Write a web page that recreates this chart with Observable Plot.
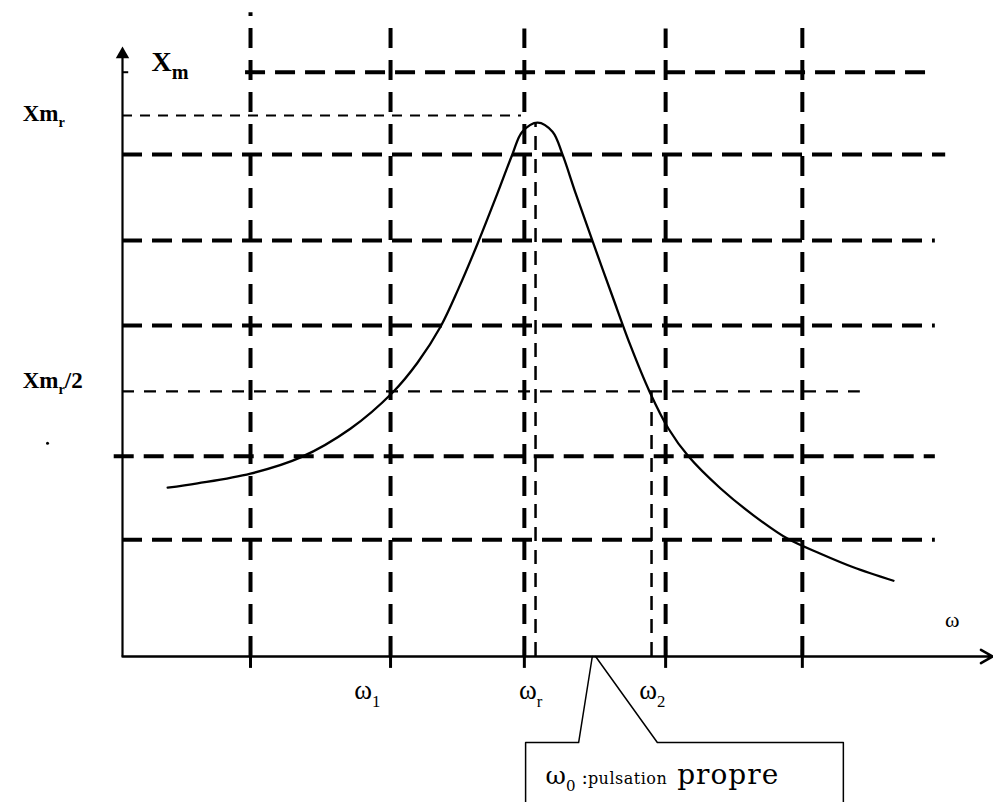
<!DOCTYPE html>
<html><head><meta charset="utf-8">
<script src="https://cdn.jsdelivr.net/npm/d3@7"></script>
<script src="https://cdn.jsdelivr.net/npm/@observablehq/plot@0.6"></script>
<style>html,body{margin:0;padding:0;background:#fff;} svg{display:block;}</style>
</head><body><div id="chart"></div>
<script>
// ---- data (ω normalised, Xm normalised to Xm_r = 1) ----
const curveOmega = [0.109,0.181,0.309,0.430,0.550,0.652,0.712,0.768,0.811,0.857,0.905,0.941,0.965,1.002,1.038,1.062,1.093,1.134,1.183,1.226,1.272,1.318,1.366,1.443,1.523,1.605,1.685,1.764,1.861];
const curveXm    = [0.312,0.320,0.338,0.368,0.421,0.488,0.543,0.610,0.680,0.763,0.856,0.928,0.970,0.987,0.970,0.928,0.858,0.769,0.665,0.575,0.490,0.421,0.370,0.311,0.261,0.218,0.190,0.165,0.140];

// dashed grid (thick)
const gridOmega    = [0.309,0.647,0.970,1.311,1.641];
const gridOmegaTop = [1.19,1.17,1.16,1.16,1.17];
const gridXm       = [1.080,0.928,0.769,0.612,0.370,0.216];
const gridXmFrom   = [0.297,0,0,0,-0.02,0];
const gridXmTo     = [1.96,1.987,1.962,1.962,1.962,1.962];

// characteristic levels and pulsations
const xmR = 1.0, xmHalf = 0.49;
const omegaRLine = 0.997, omega2Line = 1.277, xmPeak = 0.987;
const omegaRLineEnd = 0.963, halfLineEnd = 1.781;

// text
const yLabels = ["Xm_r", "Xm_r/2"];
const yLabelValues = [1.004, 0.51];
const xLabels = ["ω_1", "ω_r", "ω_2"];
const xLabelValues = [0.591, 0.985, 1.279];
const axisTitleY = "X_m";
const axisTitleX = "ω";
const calloutText = "ω_0 :pulsation propre";
const calloutSmallWord = "pulsation";

// ---- chart ----
const serif = "'Liberation Serif', 'DejaVu Serif', serif";
const gridRowsY = gridXm.map((y, i) => ({y, x1: gridXmFrom[i], x2: gridXmTo[i]}));
const gridColsX = gridOmega.map((x, i) => ({x, y2: gridOmegaTop[i]}));
const curve = curveOmega.map((w, i) => ({w, xm: curveXm[i]}));
const calloutLeft  = [[0.973,-0.40],[0.973,-0.159],[1.101,-0.159],[1.134,0]];
const calloutRight = [[1.142,0],[1.291,-0.159],[1.740,-0.159],[1.740,-0.40]];

const chart = Plot.plot({
  width: 993, height: 802,
  marginLeft: 122, marginRight: 1, marginTop: 115, marginBottom: 146,
  x: {domain: [0, 2.1], axis: null},
  y: {domain: [0, 1], axis: null},
  style: {fontFamily: serif, background: "#fff", color: "#000", overflow: "visible"},
  marks: [
    // thick dashed grid
    Plot.ruleY(gridRowsY, {y: "y", x1: "x1", x2: "x2", stroke: "#000", strokeWidth: 4, strokeDasharray: "20,10"}),
    Plot.ruleX(gridColsX, {x: "x", y1: 0, y2: "y2", stroke: "#000", strokeWidth: 4, strokeDasharray: "20,12"}),
    // thin dashed reference lines
    Plot.ruleY([xmR], {x1: 0, x2: omegaRLineEnd, stroke: "#000", strokeWidth: 2, strokeDasharray: "10,8"}),
    Plot.ruleY([xmHalf], {x1: 0, x2: halfLineEnd, stroke: "#000", strokeWidth: 2.2, strokeDasharray: "12,10"}),
    Plot.ruleX([omegaRLine], {y1: 0, y2: xmPeak, stroke: "#000", strokeWidth: 2.5, strokeDasharray: "14,9"}),
    Plot.ruleX([omega2Line], {y1: 0, y2: xmHalf, stroke: "#000", strokeWidth: 2.5, strokeDasharray: "14,9"}),
    // axes
    Plot.ruleX([0], {y1: 0, y2: 1.115, stroke: "#000", strokeWidth: 2.2}),
    Plot.dot([0], {x: 0, y: 1.113, symbol: "triangle", r: 5, fill: "#000", stroke: "none"}),
    Plot.ruleY([1.080], {x1: 0, x2: 0.015, stroke: "#000", strokeWidth: 2}),
    Plot.arrow([0], {x1: 0, x2: 2.1, y1: 0, y2: 0, stroke: "#000", strokeWidth: 2.5, headLength: 8}),
    Plot.ruleX(gridOmega, {y1: -0.022, y2: 0.012, stroke: "#000", strokeWidth: 3}),
    // resonance curve
    Plot.line(curve, {x: "w", y: "xm", curve: "catmull-rom", stroke: "#000", strokeWidth: 2.3}),
    // callout
    Plot.line(calloutLeft, {x: d => d[0], y: d => d[1], stroke: "#000", strokeWidth: 1.5}),
    Plot.line(calloutRight, {x: d => d[0], y: d => d[1], stroke: "#000", strokeWidth: 1.5}),
    Plot.text([calloutText], {x: 1.021, y: -0.220, text: d => d, textAnchor: "start", fontSize: 28, fontFamily: "'DejaVu Serif', serif"}),
    // labels
    Plot.text([axisTitleY], {x: 0.070, y: 1.098, text: d => d, textAnchor: "start", fontSize: 28, fontWeight: "bold"}),
    Plot.text(yLabels, {x: -0.241, y: (d, i) => yLabelValues[i], text: d => d, textAnchor: "start", fontSize: 23, fontWeight: "bold"}),
    Plot.text(xLabels, {x: (d, i) => xLabelValues[i], y: -0.063, text: d => d, fontSize: 27}),
    Plot.text([axisTitleX], {x: 2.003, y: 0.067, text: d => d, fontSize: 22}),
    Plot.dot([0], {x: -0.181, y: 0.394, r: 1.5, fill: "#000", stroke: "none"})
  ]
});
document.getElementById("chart").append(chart);

// rich text: character after "_" becomes a subscript; callout word in small type
function ns(tag) { return document.createElementNS("http://www.w3.org/2000/svg", tag); }
for (const t of chart.querySelectorAll("text")) {
  const s = t.textContent;
  const m = s.match(/^(.*?)_(.)(.*)$/);
  if (!m) continue;
  const fs = parseFloat(getComputedStyle(t).fontSize);
  const isCallout = s === calloutText;
  const baseSize = isCallout ? 25 : fs;
  const subSize = isCallout ? 15 : (m[1] === "X" ? fs * 0.72 : fs * 0.62);
  const shift = baseSize * 0.28;
  t.textContent = "";
  const a = ns("tspan"); a.textContent = m[1]; a.setAttribute("font-size", baseSize); t.append(a);
  const b = ns("tspan"); b.textContent = m[2]; b.setAttribute("font-size", subSize); b.setAttribute("dy", shift); t.append(b);
  let first = true;
  const addTail = (txt, size) => {
    const c = ns("tspan"); c.textContent = txt; c.setAttribute("font-size", size);
    if (first) { c.setAttribute("dy", -shift); first = false; }
    t.append(c);
    return c;
  };
  if (isCallout) {
    const k = m[3].indexOf(calloutSmallWord);
    addTail(m[3].slice(0, k), 19);
    addTail(calloutSmallWord, 16).setAttribute("letter-spacing", 0.5);
    addTail(m[3].slice(k + calloutSmallWord.length), 28).setAttribute("letter-spacing", 1);
  } else if (m[3]) {
    addTail(m[3], fs);
  }
}
</script>
</body></html>
